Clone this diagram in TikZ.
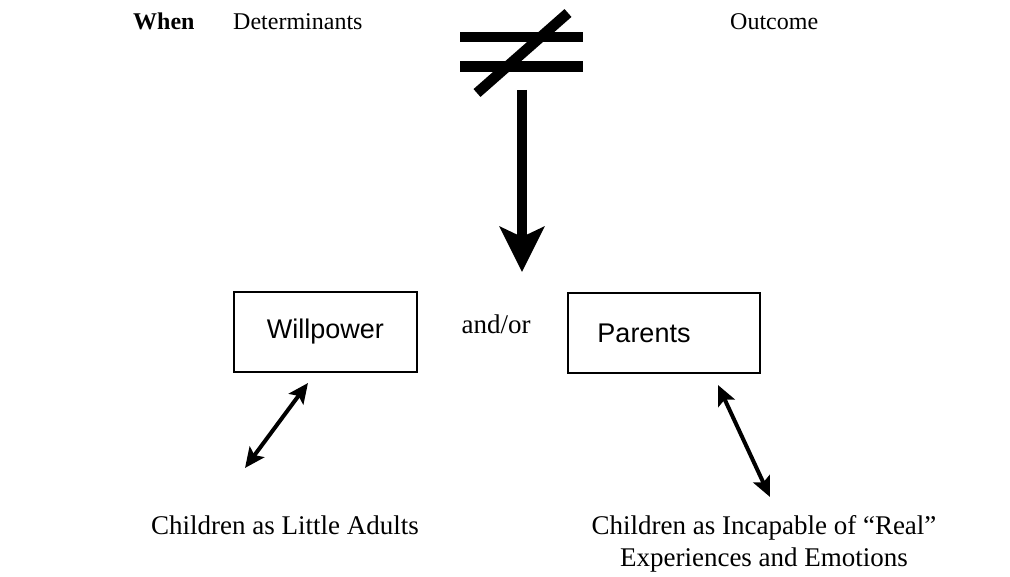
\documentclass[tikz,border=0pt]{standalone}
\usepackage{fontspec}
\setmainfont{Liberation Serif}
\newfontfamily\arialfont{Liberation Sans}
\usetikzlibrary{arrows.meta}
\begin{document}
\begin{tikzpicture}[x=1pt,y=-1pt,
  txt/.style={inner sep=0pt,font=\fontsize{24}{31}\selectfont},
  btxt/.style={inner sep=0pt,font=\fontsize{27}{31}\selectfont},
  boxlbl/.style={draw,line width=2pt,minimum width=183pt,minimum height=80pt,inner sep=0pt,font=\arialfont\fontsize{27}{30}\selectfont},
  bar/.style={line width=10.5pt},
  bigarrow/.style={line width=10pt,-{Stealth[length=45pt,width=44pt,inset=10pt]}},
  dbl/.style={line width=4pt,{Stealth[length=20pt,width=18pt,inset=4pt]}-{Stealth[length=20pt,width=18pt,inset=4pt]}}]
\useasboundingbox (0,0) rectangle (1010,577);
\node[txt,anchor=base west,font=\bfseries\fontsize{24}{31}\selectfont] (when) at (133,30) {When};
\node[txt,anchor=base west] (det) at (233,30) {Determinants};
\node[txt,anchor=base west] (out) at (730,30) {Outcome};
% not-equal sign
\draw[bar] (460,37) -- (583,37);
\draw[bar] (460,66.5) -- (583,66.5);
\draw[bar] (477,93) -- (568,13);
\coordinate (neq) at (522,90);
\coordinate (target) at (522,272);
\draw[bigarrow] (neq) -- (target);
\node[boxlbl,minimum width=183pt] (will) at (325.5,332) {\raisebox{-2pt}{Willpower}};
\node[boxlbl,minimum width=192pt] (par) at (664,333) {\hspace*{-40pt}Parents};
\node[btxt,anchor=base] (andor) at (496,334) {and/or};
\node[btxt,anchor=base] (little) at (285,534) {Children as Little Adults};
\node[btxt,anchor=base] (incap) at (764,534) {Children as Incapable of “Real”};
\node[btxt,anchor=base] (exper) at (764,566) {Experiences and Emotions};
\coordinate (w1) at (308,383);
\coordinate (w2) at (245,468);
\coordinate (p1) at (718,385);
\coordinate (p2) at (770,497);
\draw[dbl] (w1) -- (w2);
\draw[dbl] (p1) -- (p2);
\end{tikzpicture}
\end{document}
